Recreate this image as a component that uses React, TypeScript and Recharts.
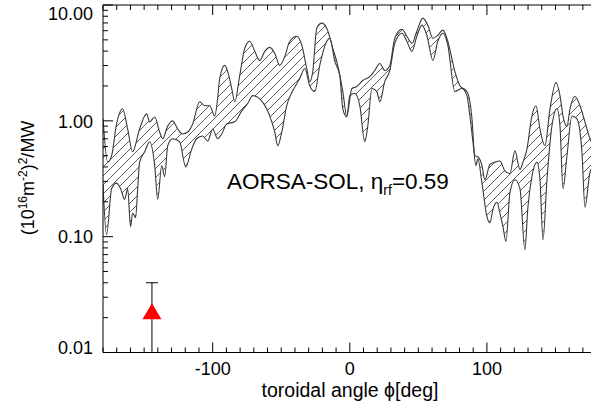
import React from 'react';
import { ComposedChart, Area, Line, Scatter, ErrorBar, XAxis, YAxis } from 'recharts';

const FONT = '"Liberation Sans", Arial, Helvetica, sans-serif';
const CURVE = '#3a3a3a';

// upper envelope, toroidal angle [deg] vs (10^16 m^-2)^2/MW
const upperAngle = [
  -180, -176.6, -173.7, -170.1, -165.7, -162.0, -158.4, -153.3, -148.2, -146.0,
  -142.3, -138.7, -136.5, -132.8, -129.2, -125.5, -121.9, -118.2, -114.6, -109.5,
  -105.8, -102.2, -98.5, -96.4, -94.9, -91.2, -89.1, -86.1, -83.9, -80.3,
  -76.6, -73.0, -69.3, -65.7, -62.0, -58.4, -54.7, -51.1, -47.4, -43.8,
  -38.7, -35.0, -31.4, -29.2, -27.0, -24.1, -20.4, -16.8, -12.4, -8.8,
  -5.1, -2.2, 1.5, 5.1, 9.5, 14.6, 18.2, 21.9, 25.5, 29.2,
  32.8, 38.0, 41.6, 45.3, 48.9, 53.3, 56.9, 60.6, 64.2, 67.9,
  71.5, 76.6, 80.3, 85.4, 87.6, 89.1, 91.2, 93.4, 96.4, 98.5,
  102.2, 105.8, 109.5, 113.1, 116.8, 120.4, 124.1, 126.3, 129.2, 132.8,
  135.8, 138.7, 142.3, 146.0, 150.4, 153.3, 155.5, 158.4, 160.6, 164.2,
  167.9, 171.5, 175.2, 180,
];
const upperValue = [
  1.04, 0.44, 0.50, 0.94, 1.27, 0.85, 0.54, 0.85, 1.15, 0.98,
  1.08, 0.80, 0.70, 0.90, 1.0, 0.85, 0.77, 0.80, 0.94, 1.46,
  1.35, 1.35, 1.10, 1.55, 2.32, 3.01, 2.67, 1.90, 1.46, 2.46,
  4.23, 4.86, 3.98, 3.32, 3.98, 4.31, 3.83, 3.01, 3.60, 4.86,
  5.37, 4.49, 2.83, 2.18, 2.67, 6.31, 6.97, 6.31, 4.23, 3.01,
  1.79, 1.10, 1.90, 1.98, 2.23, 2.41, 2.72, 3.13, 2.72, 3.01,
  5.17, 6.18, 5.37, 4.67, 5.94, 7.71, 6.70, 5.17, 5.48, 6.07,
  4.86, 2.67, 2.01, 1.79, 1.46, 1.04, 0.50, 0.49, 0.41, 0.31,
  0.42, 0.44, 0.45, 0.37, 0.35, 0.55, 0.38, 0.44, 0.57, 1.10,
  1.35, 0.85, 0.61, 1.27, 2.14, 1.65, 1.10, 0.90, 1.27, 1.62,
  1.35, 0.98, 0.70, 0.55,
];

// lower envelope
const lowerAngle = [
  -180, -177.4, -173.7, -170.1, -167.2, -164.2, -162.0, -159.9, -158.4, -156.2,
  -154.7, -153.3, -149.6, -146.0, -142.3, -140.1, -137.2, -135.0, -132.8, -129.2,
  -124.1, -119.7, -115.3, -111.7, -107.3, -103.6, -100.0, -96.4, -93.4, -89.8,
  -83.9, -78.8, -74.5, -70.8, -65.7, -60.6, -56.9, -54.7, -52.6, -49.6,
  -46.0, -41.6, -36.5, -32.8, -29.2, -25.5, -21.9, -16.8, -14.6, -10.9,
  -7.3, -5.1, -2.2, 0, 3.6, 7.3, 10.9, 13.1, 16.1, 19.7,
  21.9, 25.5, 29.2, 32.8, 38.0, 41.6, 45.3, 48.9, 52.6, 56.2,
  60.6, 64.2, 67.9, 71.5, 76.6, 81.8, 85.4, 87.6, 89.8, 92.0,
  93.4, 96.4, 100.0, 102.2, 104.4, 107.3, 109.5, 111.7, 113.9, 116.8,
  120.4, 124.1, 127.7, 129.9, 132.8, 136.5, 138.7, 140.9, 143.8, 147.4,
  151.1, 153.3, 155.5, 158.4, 162.0, 165.7, 169.3, 171.5, 175.2, 180,
];
const lowerValue = [
  0.28, 0.104, 0.26, 0.29, 0.26, 0.21, 0.26, 0.122, 0.16, 0.146,
  0.26, 0.44, 0.54, 0.66, 0.41, 0.21, 0.41, 0.33, 0.61, 0.70,
  0.66, 0.40, 0.57, 0.70, 0.74, 0.67, 0.85, 0.70, 0.77, 0.94,
  0.98, 1.22, 1.41, 1.65, 1.55, 1.27, 0.98, 0.80, 0.61, 0.80,
  1.35, 1.82, 2.32, 2.83, 2.01, 1.79, 3.01, 4.86, 5.17, 3.26,
  2.46, 1.27, 1.08, 1.65, 1.72, 1.35, 0.66, 0.90, 1.90, 1.79,
  1.46, 2.18, 2.72, 4.67, 5.71, 4.86, 3.98, 5.37, 6.70, 5.48,
  3.32, 4.86, 5.71, 4.49, 1.79, 1.90, 1.65, 1.10, 0.66, 0.41,
  0.47, 0.29, 0.149, 0.132, 0.172, 0.198, 0.16, 0.122, 0.091, 0.24,
  0.31, 0.26, 0.077, 0.18, 0.33, 0.44, 0.31, 0.094, 0.31, 0.90,
  1.27, 0.90, 0.26, 0.50, 1.10, 1.04, 0.54, 0.18, 0.36, 0.45,
];

// measured point with error bar
const measAngle = [-144.3];
const measValue = [0.022];
const measErrLow = [0.012];
const measErrHigh = [0.018];

const xTicks = [
  -180, -170, -160, -150, -140, -130, -120, -110, -100, -90, -80, -70, -60, -50, -40, -30, -20, -10,
  0, 10, 20, 30, 40, 50, 60, 70, 80, 90, 100, 110, 120, 130, 140, 150, 160, 170, 180,
];
const xLabels = [-100, 0, 100];
const yTicks = [
  0.01, 0.02, 0.03, 0.04, 0.05, 0.06, 0.07, 0.08, 0.09,
  0.1, 0.2, 0.3, 0.4, 0.5, 0.6, 0.7, 0.8, 0.9,
  1, 2, 3, 4, 5, 6, 7, 8, 9, 10,
];
const yLabels = [0.01, 0.1, 1, 10];
const yLabelText = ['0.01', '0.10', '1.00', '10.00'];
const yLabelShift = [1, 6.5, 7.5, 15];

const upperData = upperAngle.map((x, i) => ({ x, v: upperValue[i] }));
const lowerData = lowerAngle.map((x, i) => ({ x, v: lowerValue[i] }));
const measData = measAngle.map((x, i) => ({
  x,
  v: measValue[i],
  err: [measErrLow[i], measErrHigh[i]],
}));

const XTickBottom = ({ x, y, payload }: any) => {
  const major = xLabels.includes(payload.value);
  return (
    <g>
      <line x1={x} x2={x} y1={y} y2={y - (major ? 10 : 5)} stroke="#000" strokeWidth={1} />
      {major && (
        <text x={x} y={y + 22} textAnchor="middle" fontSize={18} fontFamily={FONT} fill="#000">
          {payload.value}
        </text>
      )}
    </g>
  );
};

const XTickTop = ({ x, y, payload }: any) => {
  const major = xLabels.includes(payload.value);
  return <line x1={x} x2={x} y1={y} y2={y + (major ? 10 : 5)} stroke="#000" strokeWidth={1} />;
};

const YTick = ({ x, y, payload }: any) => {
  const idx = yLabels.indexOf(payload.value);
  const major = idx >= 0;
  return (
    <g>
      <line x1={x} x2={x + (major ? 10 : 5)} y1={y} y2={y} stroke="#000" strokeWidth={1} />
      {major && (
        <text
          x={x - 10}
          y={y + yLabelShift[idx]}
          textAnchor="end"
          fontSize={18}
          fontFamily={FONT}
          fill="#000"
        >
          {yLabelText[idx]}
        </text>
      )}
    </g>
  );
};

const Triangle = ({ cx, cy }: any) => (
  <polygon
    points={`${cx},${cy - 9.5} ${cx - 9.5},${cy + 6.5} ${cx + 9.5},${cy + 6.5}`}
    fill="#ff0000"
  />
);

const App: React.FC = () => (
  <div
    style={{
      position: 'fixed',
      left: 0,
      top: 0,
      width: 591,
      height: 412,
      overflow: 'hidden',
      background: '#fff',
    }}
  >
    <ComposedChart
      width={610}
      height={412}
      margin={{ top: 0, right: 13.4, left: 43, bottom: 0 }}
    >
      <XAxis
        dataKey="x"
        type="number"
        domain={[-180, 180]}
        ticks={xTicks}
        interval={0}
        allowDataOverflow
        height={59.5}
        tickSize={0}
        tickMargin={0}
        tickLine={false}
        tick={<XTickBottom />}
        axisLine={{ stroke: '#000', strokeWidth: 1 }}
      />
      <XAxis
        xAxisId="top"
        orientation="top"
        dataKey="x"
        type="number"
        domain={[-180, 180]}
        ticks={xTicks}
        interval={0}
        allowDataOverflow
        height={5}
        tickSize={0}
        tickMargin={0}
        tickLine={false}
        tick={<XTickTop />}
        axisLine={{ stroke: '#000', strokeWidth: 1 }}
      />
      <YAxis
        type="number"
        scale="log"
        domain={[0.01, 10]}
        ticks={yTicks}
        interval={0}
        allowDataOverflow
        width={60}
        tickSize={0}
        tickMargin={0}
        tickLine={false}
        tick={<YTick />}
        axisLine={{ stroke: '#000', strokeWidth: 1 }}
      />
      <Area
        data={upperData}
        dataKey="v"
        type="monotone"
        stroke="none"
        fill="url(#hatch)"
        fillOpacity={1}
        isAnimationActive={false}
      />
      <Area
        data={lowerData}
        dataKey="v"
        type="monotone"
        stroke="none"
        fill="#ffffff"
        fillOpacity={1}
        isAnimationActive={false}
      />
      <Line
        data={upperData}
        dataKey="v"
        type="monotone"
        stroke={CURVE}
        strokeWidth={1.1}
        dot={false}
        isAnimationActive={false}
      />
      <Line
        data={lowerData}
        dataKey="v"
        type="monotone"
        stroke={CURVE}
        strokeWidth={1.1}
        dot={false}
        isAnimationActive={false}
      />
      <Scatter data={measData} dataKey="v" shape={<Triangle />} isAnimationActive={false}>
        <ErrorBar
          dataKey="err"
          direction="y"
          width={6}
          stroke="#000"
          strokeWidth={1}
          isAnimationActive={false}
        />
      </Scatter>
    </ComposedChart>
    <svg
      width={591}
      height={412}
      style={{ position: 'absolute', left: 0, top: 0, pointerEvents: 'none' }}
    >
      <defs>
        <pattern id="hatch" patternUnits="userSpaceOnUse" width={9} height={9}>
          <path d="M0,9 L9,0 M-2,2 L2,-2 M7,11 L11,7" stroke="#333" strokeWidth={0.8} />
        </pattern>
      </defs>
      <text x={350} y={397} textAnchor="middle" fontSize={19.5} fontFamily={FONT} fill="#000">
        toroidal angle ϕ[deg]
      </text>
      <text
        transform="translate(34,178) rotate(-90)"
        textAnchor="middle"
        fontSize={18}
        fontFamily={FONT}
        fill="#000"
      >
        (10<tspan dy={-7} fontSize={12}>16</tspan>
        <tspan dy={7}>m</tspan>
        <tspan dy={-7} fontSize={12}>-2</tspan>
        <tspan dy={7}>)</tspan>
        <tspan dy={-7} fontSize={12}>2</tspan>
        <tspan dy={7}>/MW</tspan>
      </text>
      <text x={227} y={189} fontSize={22.5} fontFamily={FONT} fill="#000">
        AORSA-SOL, η<tspan dy={6} fontSize={14}>rf</tspan>
        <tspan dy={-6}>=0.59</tspan>
      </text>
    </svg>
  </div>
);

export default App;
